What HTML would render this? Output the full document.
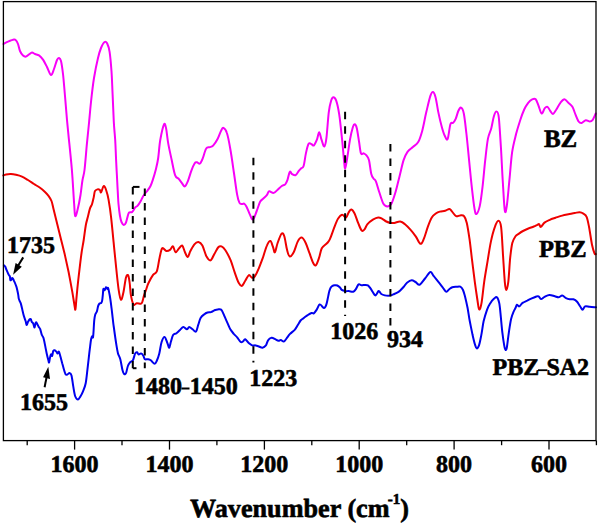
<!DOCTYPE html>
<html><head><meta charset="utf-8"><style>
html,body{margin:0;padding:0;background:#fff;}
svg{display:block;}
text{font-family:"Liberation Serif",serif;font-weight:bold;fill:#000;stroke:#000;stroke-width:0.6px;text-rendering:geometricPrecision;}
</style></head><body>
<svg width="600" height="523" viewBox="0 0 600 523">
<rect x="0" y="0" width="600" height="523" fill="#fff"/>
<g fill="none" stroke-width="2" stroke-linejoin="round" stroke-linecap="round">
<path d="M3.5,44.0 C4.2,43.6 6.2,42.3 8.0,41.6 C9.8,40.9 12.7,39.8 14.0,39.6 C15.3,39.4 15.3,39.7 16.0,40.4 C16.7,41.1 17.3,42.2 18.0,44.0 C18.7,45.8 19.2,49.1 20.0,51.0 C20.8,52.9 22.0,54.7 23.0,55.6 C24.0,56.5 25.0,56.8 26.0,56.6 C27.0,56.4 28.0,55.1 29.0,54.4 C30.0,53.7 31.0,52.5 32.0,52.4 C33.0,52.3 33.8,53.5 35.0,54.0 C36.2,54.5 37.7,54.5 39.0,55.4 C40.3,56.3 41.7,57.7 43.0,59.6 C44.3,61.5 45.7,64.4 47.0,67.0 C48.3,69.6 49.8,74.7 51.0,75.0 C52.2,75.3 53.0,71.5 54.0,69.0 C55.0,66.5 56.2,61.8 57.0,60.0 C57.8,58.2 58.3,57.8 59.0,58.0 C59.7,58.2 60.3,58.3 61.0,61.0 C61.7,63.7 62.3,68.2 63.0,74.0 C63.7,79.8 64.3,88.3 65.0,96.0 C65.7,103.7 66.4,113.6 67.0,120.0 C67.6,126.4 67.6,126.3 68.4,134.4 C69.2,142.5 70.8,157.3 71.8,168.8 C72.8,180.3 73.5,195.4 74.1,203.3 C74.7,211.2 74.6,214.9 75.2,216.0 C75.8,217.1 76.6,213.5 77.5,210.0 C78.4,206.5 79.7,200.0 80.5,195.0 C81.3,190.0 81.8,184.2 82.5,180.0 C83.2,175.8 83.8,175.7 84.5,170.0 C85.2,164.3 86.0,153.7 86.7,145.9 C87.5,138.1 88.3,130.3 89.0,123.0 C89.7,115.7 90.2,109.5 91.0,102.0 C91.8,94.5 92.8,85.3 94.0,78.0 C95.2,70.7 96.8,63.0 98.0,58.0 C99.2,53.0 99.9,50.7 101.0,48.0 C102.1,45.3 103.5,42.7 104.6,42.0 C105.6,41.3 106.5,42.2 107.3,43.8 C108.1,45.4 108.9,47.2 109.6,51.8 C110.3,56.4 111.0,64.2 111.5,71.3 C112.0,78.4 112.2,85.8 112.6,94.2 C113.0,102.6 113.4,114.2 113.8,121.8 C114.2,129.4 114.8,133.6 115.2,140.0 C115.6,146.4 115.8,154.1 116.1,160.0 C116.4,165.9 116.6,170.2 116.9,175.3 C117.2,180.4 117.4,185.8 117.7,190.6 C118.0,195.4 118.1,199.8 118.5,204.0 C118.9,208.2 119.4,212.5 119.9,215.5 C120.4,218.5 120.8,220.4 121.5,222.0 C122.2,223.6 123.0,224.9 123.8,225.0 C124.5,225.1 125.4,223.9 126.0,222.5 C126.6,221.1 127.1,218.3 127.6,216.6 C128.1,214.9 128.3,213.3 129.1,212.5 C129.9,211.7 131.2,212.8 132.2,212.0 C133.2,211.2 134.3,208.4 135.2,207.4 C136.1,206.4 136.6,206.9 137.5,205.9 C138.4,204.9 139.6,203.1 140.6,201.3 C141.6,199.5 142.5,197.0 143.7,195.2 C144.8,193.4 146.4,192.1 147.5,190.6 C148.6,189.1 149.6,187.8 150.5,186.0 C151.4,184.2 151.9,182.7 152.8,179.9 C153.7,177.1 155.0,172.8 155.9,169.2 C156.8,165.5 157.5,162.9 158.2,158.0 C158.9,153.1 159.3,145.4 160.3,139.8 C161.3,134.2 163.0,126.4 164.0,124.5 C165.0,122.6 165.4,125.1 166.1,128.4 C166.8,131.7 167.4,139.1 168.4,144.4 C169.4,149.8 170.7,155.3 171.8,160.5 C172.9,165.7 174.0,172.3 175.2,175.4 C176.3,178.5 177.5,177.5 178.7,178.8 C179.8,180.1 181.1,182.1 182.1,183.4 C183.1,184.7 183.9,186.8 184.9,186.4 C185.9,186.0 186.8,183.7 187.9,181.1 C189.0,178.5 190.2,173.8 191.3,170.8 C192.4,167.8 193.8,164.6 194.7,163.2 C195.6,161.8 196.1,162.2 197.0,162.3 C197.9,162.4 199.0,164.2 200.0,163.5 C201.0,162.8 201.8,160.7 202.8,158.2 C203.8,155.7 205.0,150.3 206.2,148.5 C207.3,146.7 208.5,147.7 209.7,147.2 C210.8,146.7 211.8,147.0 213.1,145.6 C214.4,144.2 216.4,141.2 217.7,138.7 C219.0,136.2 220.1,132.5 221.1,130.7 C222.1,128.9 222.4,127.5 223.4,127.9 C224.4,128.3 225.8,129.5 226.9,133.0 C228.1,136.5 229.2,142.5 230.3,149.0 C231.5,155.5 232.7,164.3 233.8,172.0 C235.0,179.7 236.2,189.8 237.2,194.9 C238.1,200.1 238.7,201.4 239.5,202.9 C240.3,204.4 241.0,204.0 241.8,204.1 C242.6,204.2 243.3,203.2 244.1,203.6 C244.9,204.0 245.4,204.6 246.4,206.4 C247.4,208.2 248.7,212.2 249.8,214.4 C250.9,216.6 251.8,220.1 253.0,219.5 C254.2,218.9 255.5,213.9 256.7,211.0 C257.9,208.1 259.0,203.9 260.1,201.8 C261.2,199.7 262.5,199.5 263.6,198.3 C264.8,197.2 266.1,196.1 267.0,194.9 C267.9,193.7 268.1,191.6 269.2,191.3 C270.3,191.0 272.3,193.3 273.8,192.9 C275.3,192.5 277.1,190.2 278.4,189.0 C279.7,187.8 280.7,186.8 281.8,186.0 C282.9,185.2 284.2,185.4 285.2,184.4 C286.1,183.4 286.7,181.9 287.5,179.8 C288.3,177.7 289.0,172.8 289.8,171.8 C290.6,170.9 291.1,173.5 292.1,174.1 C293.1,174.7 294.5,175.8 295.6,175.2 C296.8,174.6 298.1,171.8 299.0,170.6 C299.9,169.4 300.5,169.1 301.3,168.3 C302.1,167.5 302.8,168.5 303.6,166.0 C304.4,163.5 305.1,157.1 305.9,153.4 C306.7,149.7 307.7,145.3 308.6,143.8 C309.6,142.3 310.7,144.0 311.6,144.3 C312.5,144.6 313.0,146.2 313.9,145.4 C314.8,144.6 316.0,141.9 316.9,139.7 C317.8,137.5 318.4,132.3 319.2,132.3 C320.0,132.3 320.6,137.3 321.5,139.7 C322.4,142.1 323.5,146.9 324.3,146.5 C325.1,146.1 325.8,143.1 326.5,137.4 C327.2,131.7 328.0,118.2 328.8,112.1 C329.6,106.0 330.3,103.2 331.1,100.7 C331.9,98.2 332.5,97.2 333.4,97.2 C334.2,97.2 335.2,97.8 336.2,100.7 C337.2,103.6 338.2,107.9 339.2,114.4 C340.2,120.9 341.3,132.1 342.1,139.7 C342.9,147.3 343.5,155.4 344.0,160.2 C344.5,165.0 344.7,168.9 345.2,168.5 C345.7,168.1 346.4,162.8 347.2,158.0 C348.0,153.2 349.1,144.9 350.0,139.7 C350.9,134.5 352.1,129.6 352.9,127.0 C353.7,124.4 354.1,124.1 354.8,124.3 C355.5,124.5 356.1,125.2 356.8,128.2 C357.5,131.1 358.4,137.8 359.1,142.0 C359.8,146.2 360.2,151.5 361.0,153.4 C361.8,155.3 362.8,153.0 363.7,153.4 C364.6,153.8 365.8,154.5 366.7,155.7 C367.6,156.8 368.2,157.2 369.0,160.3 C369.8,163.4 370.5,171.0 371.3,174.1 C372.1,177.2 372.8,177.5 373.6,178.7 C374.4,179.9 374.9,179.0 375.9,181.3 C376.9,183.6 378.1,188.8 379.4,192.5 C380.6,196.2 382.1,201.5 383.4,203.8 C384.7,206.1 386.1,206.4 387.4,206.4 C388.7,206.4 390.1,206.1 391.4,203.8 C392.7,201.5 394.0,197.1 395.4,192.5 C396.8,187.9 398.1,181.8 399.5,176.4 C400.9,171.1 402.2,164.5 403.5,160.4 C404.8,156.3 405.9,154.0 407.5,151.8 C409.1,149.6 411.1,148.6 412.9,147.0 C414.7,145.4 416.6,144.8 418.2,142.1 C419.8,139.4 420.8,135.9 422.2,130.9 C423.6,125.9 424.9,117.9 426.3,112.1 C427.7,106.3 429.2,99.4 430.3,96.1 C431.4,92.8 432.1,91.9 433.0,92.1 C433.9,92.3 434.7,94.1 435.6,97.4 C436.5,100.7 437.3,107.2 438.3,112.1 C439.3,117.0 440.7,122.9 441.8,126.9 C442.9,130.9 444.0,134.3 445.0,136.3 C446.0,138.3 446.8,140.9 447.7,138.9 C448.6,136.9 449.5,126.9 450.4,124.2 C451.3,121.5 452.1,123.8 453.0,122.9 C453.9,122.0 454.8,120.8 455.7,118.8 C456.6,116.8 457.5,112.7 458.4,110.8 C459.3,108.9 460.2,107.1 461.1,107.6 C462.0,108.0 462.9,109.2 463.8,113.5 C464.7,117.8 465.5,125.7 466.4,133.5 C467.3,141.3 468.2,151.5 469.1,160.4 C470.0,169.3 470.9,179.2 471.8,187.2 C472.7,195.2 473.7,204.1 474.5,208.6 C475.3,213.1 475.5,214.4 476.4,214.0 C477.3,213.6 478.8,210.4 479.8,205.9 C480.8,201.4 481.6,194.8 482.5,187.2 C483.4,179.6 484.3,168.4 485.2,160.4 C486.1,152.4 486.9,144.3 487.9,138.9 C488.9,133.5 490.3,132.0 491.3,128.2 C492.3,124.4 493.0,119.0 493.9,116.2 C494.8,113.4 495.8,111.4 496.6,111.6 C497.4,111.8 498.1,111.6 498.8,117.5 C499.5,123.4 500.2,136.3 500.9,147.0 C501.6,157.7 502.1,171.2 502.8,181.8 C503.5,192.4 504.1,206.5 504.8,210.5 C505.5,214.5 506.0,211.1 506.8,205.9 C507.6,200.7 508.6,188.0 509.5,179.1 C510.4,170.2 511.0,159.9 512.1,152.3 C513.2,144.7 514.9,138.9 516.2,133.6 C517.6,128.2 518.9,124.2 520.2,120.2 C521.5,116.2 522.9,112.4 524.2,109.5 C525.5,106.6 526.9,104.5 528.2,102.8 C529.5,101.1 531.0,99.9 532.2,99.3 C533.5,98.7 534.7,98.3 535.7,99.3 C536.7,100.3 537.4,103.0 538.4,105.4 C539.4,107.8 540.5,113.0 541.6,113.5 C542.7,114.0 543.8,109.2 544.8,108.1 C545.8,107.0 546.6,106.3 547.5,106.8 C548.4,107.2 549.3,109.6 550.2,110.8 C551.1,112.0 551.9,114.2 552.9,114.0 C553.9,113.8 555.0,111.4 556.3,109.5 C557.5,107.6 559.0,104.5 560.4,102.8 C561.8,101.1 563.1,99.3 564.4,99.3 C565.7,99.3 567.1,101.5 568.4,102.8 C569.7,104.0 571.3,105.0 572.4,106.8 C573.5,108.6 574.1,111.0 575.1,113.5 C576.1,116.0 577.5,119.9 578.6,121.5 C579.7,123.1 580.6,123.1 581.8,122.9 C583.0,122.7 584.5,120.4 585.8,120.2 C587.1,120.0 588.7,121.5 589.8,121.5 C590.9,121.5 591.5,121.5 592.5,120.2 C593.5,118.9 595.2,114.6 595.7,113.5" stroke="#f800f8"/>
<path d="M3.4,175.5 C3.8,175.3 4.7,174.8 6.0,174.5 C7.3,174.2 9.3,173.9 11.0,174.0 C12.7,174.1 14.2,174.4 16.0,174.8 C17.8,175.2 20.0,175.7 22.0,176.6 C24.0,177.5 26.0,178.8 28.0,180.0 C30.0,181.2 32.0,182.7 34.0,184.0 C36.0,185.3 38.2,186.5 40.0,187.8 C41.8,189.1 43.6,190.7 45.0,192.0 C46.4,193.3 47.4,194.3 48.5,195.8 C49.6,197.3 50.6,198.7 51.5,201.0 C52.4,203.3 52.7,205.9 53.7,209.8 C54.7,213.8 56.2,219.7 57.4,224.7 C58.6,229.7 59.9,234.7 61.1,239.7 C62.3,244.7 63.5,249.2 64.8,254.6 C66.0,260.0 67.3,265.8 68.6,272.0 C69.8,278.2 71.3,286.2 72.3,291.9 C73.3,297.6 74.1,303.1 74.6,306.0 C75.1,308.9 75.1,310.5 75.4,309.5 C75.7,308.5 76.0,303.6 76.3,300.0 C76.6,296.4 76.9,293.3 77.4,288.2 C77.9,283.1 78.8,275.2 79.5,269.3 C80.2,263.4 80.9,257.4 81.6,252.5 C82.3,247.6 83.0,244.6 83.7,240.0 C84.4,235.4 85.1,229.1 85.8,225.2 C86.5,221.3 87.2,219.6 87.9,216.8 C88.6,214.0 89.3,210.5 90.0,208.4 C90.7,206.3 91.4,206.0 92.0,204.2 C92.6,202.4 93.2,199.6 93.7,197.4 C94.2,195.2 94.3,192.5 94.9,191.2 C95.5,189.9 96.6,189.6 97.4,189.4 C98.2,189.2 99.3,189.5 99.9,190.0 C100.5,190.5 100.5,193.0 101.1,192.4 C101.7,191.8 102.8,186.6 103.6,186.2 C104.4,185.8 105.3,187.7 106.1,190.0 C106.9,192.3 107.8,195.3 108.6,199.9 C109.4,204.5 110.3,210.2 111.1,217.3 C111.9,224.4 112.8,233.9 113.6,242.2 C114.4,250.5 115.3,259.1 116.1,267.0 C116.9,274.9 117.8,283.9 118.6,289.4 C119.4,294.9 120.2,299.4 121.0,299.8 C121.8,300.2 122.7,295.7 123.5,292.0 C124.3,288.3 125.2,280.2 126.0,277.5 C126.8,274.8 127.6,274.4 128.2,275.5 C128.8,276.6 129.4,280.7 129.8,284.0 C130.2,287.3 130.3,291.8 130.9,295.2 C131.5,298.6 132.6,303.3 133.6,304.6 C134.6,305.9 135.6,303.3 136.8,303.2 C138.0,303.1 139.9,304.0 140.8,303.8 C141.7,303.6 141.8,303.4 142.3,302.0 C142.8,300.6 143.4,297.5 144.0,295.5 C144.6,293.5 145.2,292.1 146.0,290.0 C146.8,287.9 147.3,285.5 148.5,283.0 C149.7,280.5 151.5,277.1 152.9,275.1 C154.3,273.1 155.8,274.0 156.9,271.1 C158.0,268.2 158.7,261.5 159.6,257.7 C160.5,253.9 161.1,249.4 162.2,248.3 C163.3,247.2 165.0,250.8 166.3,251.0 C167.7,251.2 169.2,250.4 170.3,249.6 C171.4,248.8 172.1,245.9 173.0,246.4 C173.9,246.9 174.6,252.0 175.6,252.3 C176.6,252.6 178.0,249.4 179.1,248.3 C180.2,247.2 181.3,244.9 182.3,245.6 C183.3,246.3 184.1,250.4 185.0,252.3 C185.9,254.2 186.8,257.3 187.7,257.1 C188.6,256.9 189.3,253.1 190.4,251.0 C191.5,248.9 193.1,245.8 194.4,244.3 C195.7,242.8 197.1,241.9 198.4,242.1 C199.7,242.3 201.1,243.2 202.4,245.6 C203.7,248.0 205.1,253.8 206.4,256.3 C207.8,258.8 209.2,260.8 210.5,260.4 C211.8,260.0 213.2,255.9 214.5,253.7 C215.8,251.5 217.3,248.2 218.5,247.0 C219.7,245.8 220.3,245.9 221.5,246.4 C222.7,246.9 223.9,247.9 225.4,250.2 C226.9,252.5 229.1,256.7 230.7,260.4 C232.2,264.1 233.3,268.6 234.7,272.4 C236.0,276.2 237.6,280.9 238.8,283.1 C240.0,285.3 240.9,286.2 242.0,285.8 C243.1,285.4 244.2,282.3 245.4,280.5 C246.6,278.7 247.8,275.6 248.9,275.1 C250.0,274.7 251.1,277.6 252.1,277.8 C253.1,278.0 253.7,278.0 254.8,276.4 C255.9,274.8 257.5,271.5 258.8,268.4 C260.1,265.3 261.5,261.5 262.9,257.7 C264.2,253.9 265.6,248.4 266.9,245.6 C268.1,242.8 269.4,240.9 270.4,241.1 C271.4,241.3 272.2,245.1 273.0,247.0 C273.8,248.9 274.1,253.0 274.9,252.3 C275.7,251.6 276.5,246.1 277.6,243.0 C278.7,239.9 280.5,234.7 281.6,233.6 C282.7,232.5 283.4,233.6 284.3,236.3 C285.2,239.0 286.1,246.3 287.0,249.6 C287.9,252.9 288.5,255.9 289.6,256.3 C290.7,256.8 292.4,254.8 293.7,252.3 C295.0,249.9 296.4,244.1 297.7,241.6 C299.0,239.1 300.4,237.4 301.7,237.6 C303.0,237.8 304.4,240.3 305.7,243.0 C307.0,245.7 308.4,250.4 309.7,253.7 C310.9,257.0 312.2,261.1 313.2,263.0 C314.2,264.9 314.9,266.1 315.9,265.2 C316.9,264.3 318.1,260.5 319.1,257.7 C320.1,254.9 320.5,250.8 321.8,248.3 C323.1,245.9 325.8,244.6 327.2,243.0 C328.6,241.4 328.9,241.4 330.0,238.9 C331.1,236.4 332.7,231.5 334.0,228.2 C335.3,224.8 336.6,221.0 338.0,218.8 C339.4,216.6 340.8,215.0 342.1,214.8 C343.5,214.6 345.0,217.9 346.1,217.5 C347.2,217.1 347.9,213.4 348.8,212.1 C349.7,210.8 350.4,209.3 351.4,209.5 C352.4,209.7 353.5,211.3 354.6,213.5 C355.7,215.7 356.9,220.1 358.1,222.9 C359.3,225.7 360.6,229.3 361.6,230.4 C362.6,231.5 363.3,230.6 364.3,229.6 C365.3,228.6 366.1,225.9 367.5,224.2 C368.9,222.5 371.1,220.7 372.9,219.6 C374.7,218.5 376.6,217.6 378.2,217.5 C379.8,217.4 380.8,218.1 382.2,218.8 C383.6,219.5 384.9,220.8 386.3,221.5 C387.7,222.2 389.0,222.7 390.3,222.9 C391.6,223.1 392.7,223.1 394.3,222.9 C395.9,222.7 398.4,221.3 400.2,221.5 C402.0,221.7 403.3,222.8 405.0,224.2 C406.7,225.5 408.6,227.6 410.4,229.6 C412.2,231.6 414.0,233.9 415.7,236.3 C417.4,238.7 419.1,243.4 420.5,243.8 C421.9,244.2 422.6,241.7 423.8,238.9 C425.0,236.1 426.5,230.5 427.8,226.9 C429.1,223.3 430.5,219.7 431.8,217.5 C433.1,215.3 434.5,214.5 435.8,213.5 C437.1,212.5 438.2,212.0 439.8,211.6 C441.4,211.2 443.6,211.2 445.2,210.8 C446.8,210.4 448.2,208.8 449.4,208.9 C450.5,209.0 451.0,210.4 452.1,211.6 C453.2,212.8 454.8,215.6 456.1,216.2 C457.4,216.8 458.8,215.4 460.1,215.4 C461.4,215.4 463.0,214.9 464.1,216.2 C465.2,217.4 465.9,219.1 466.8,222.9 C467.7,226.7 468.6,232.7 469.5,238.9 C470.4,245.2 471.2,253.2 472.1,260.4 C473.0,267.5 473.9,275.1 474.8,281.8 C475.7,288.5 476.8,295.9 477.5,300.5 C478.2,305.1 478.5,309.1 479.2,309.5 C479.9,309.9 480.7,307.8 481.5,303.2 C482.3,298.6 483.2,288.9 484.2,281.8 C485.2,274.7 486.6,267.1 487.7,260.4 C488.8,253.7 489.7,247.2 490.9,241.6 C492.1,236.0 493.6,230.4 494.9,226.9 C496.1,223.4 497.4,220.7 498.4,220.7 C499.4,220.7 500.3,221.2 501.1,226.9 C501.9,232.6 502.4,245.8 503.0,255.0 C503.6,264.1 504.3,276.0 504.8,281.8 C505.3,287.6 505.6,290.0 506.2,290.0 C506.8,290.0 507.6,287.2 508.3,281.8 C509.0,276.4 509.5,264.2 510.2,257.7 C510.9,251.2 511.4,246.6 512.3,243.0 C513.2,239.4 514.4,237.9 515.5,236.3 C516.6,234.7 517.8,234.5 519.0,233.6 C520.2,232.7 521.4,231.8 523.0,231.0 C524.6,230.2 526.6,229.2 528.4,228.5 C530.2,227.8 532.3,227.1 533.8,226.5 C535.3,225.9 536.5,225.2 537.4,224.8 C538.3,224.4 538.5,223.8 539.1,224.2 C539.7,224.5 539.9,227.2 540.8,226.9 C541.7,226.6 543.0,223.8 544.5,222.6 C546.0,221.4 548.0,220.6 549.8,219.8 C551.6,219.0 553.4,218.5 555.5,217.8 C557.6,217.1 560.1,216.2 562.2,215.6 C564.4,215.0 566.3,214.7 568.4,214.3 C570.5,213.9 572.8,213.3 574.7,213.0 C576.6,212.7 578.2,212.1 579.6,212.2 C581.0,212.3 582.2,212.8 583.4,213.6 C584.6,214.4 585.6,214.5 586.6,216.8 C587.6,219.1 588.2,222.7 589.1,227.3 C590.0,232.0 591.1,240.3 592.0,244.7 C592.9,249.0 593.9,251.8 594.5,253.4 C595.1,255.0 595.6,254.0 595.8,254.1" stroke="#ee0000"/>
<path d="M3.9,265.3 C4.1,265.5 4.8,265.9 5.2,266.6 C5.6,267.3 6.0,268.6 6.4,269.6 C6.8,270.6 7.3,271.7 7.7,272.6 C8.1,273.5 8.6,274.6 9.0,275.2 C9.4,275.8 9.7,275.7 9.9,276.5 C10.1,277.3 10.1,279.4 10.3,280.0 C10.5,280.6 10.9,280.2 11.2,279.9 C11.5,279.6 11.7,278.4 12.0,278.2 C12.3,278.0 12.6,278.2 12.9,278.6 C13.2,279.0 13.5,279.7 13.8,280.4 C14.2,281.1 14.6,282.0 15.0,283.0 C15.4,284.0 15.9,285.3 16.3,286.4 C16.7,287.5 16.9,288.5 17.2,289.8 C17.5,291.1 17.9,292.7 18.1,294.1 C18.4,295.5 18.5,297.3 18.7,298.4 C18.9,299.5 19.2,299.8 19.5,300.6 C19.8,301.4 20.2,301.6 20.7,303.1 C21.2,304.6 21.8,307.4 22.3,309.6 C22.8,311.8 23.3,314.2 23.9,316.1 C24.4,318.0 25.1,319.5 25.6,321.0 C26.1,322.5 26.3,325.0 26.7,325.1 C27.1,325.2 27.5,322.8 28.0,321.8 C28.5,320.9 29.1,319.8 29.6,319.4 C30.1,318.9 30.5,318.7 30.8,319.1 C31.1,319.5 31.3,321.1 31.7,321.8 C32.1,322.5 32.7,322.6 33.2,323.5 C33.7,324.4 34.1,327.6 34.5,327.5 C34.9,327.4 35.4,323.3 35.8,322.6 C36.2,321.9 36.5,322.8 37.0,323.5 C37.5,324.2 38.1,325.8 38.6,326.7 C39.1,327.6 39.7,327.8 40.2,329.1 C40.7,330.5 41.2,333.3 41.8,334.8 C42.3,336.3 43.0,336.3 43.5,338.1 C44.0,339.9 44.6,342.8 45.1,345.4 C45.6,348.0 46.2,351.1 46.7,353.5 C47.2,355.9 47.9,358.5 48.3,360.0 C48.7,361.5 48.8,362.9 49.1,362.5 C49.4,362.1 49.7,359.0 50.0,357.6 C50.3,356.2 50.8,354.6 51.1,354.3 C51.5,354.0 51.8,356.5 52.1,356.0 C52.5,355.5 52.8,352.1 53.2,351.1 C53.7,350.2 54.2,350.2 54.8,350.3 C55.3,350.4 56.0,351.4 56.5,351.9 C57.0,352.4 57.2,353.6 57.6,353.5 C58.0,353.4 58.4,351.1 58.9,351.6 C59.4,352.2 60.0,354.9 60.5,356.8 C61.0,358.8 61.7,361.3 62.2,363.3 C62.8,365.3 63.3,367.2 63.8,369.0 C64.3,370.8 64.9,372.9 65.4,373.9 C65.9,374.8 66.3,374.8 67.0,374.7 C67.7,374.6 68.8,372.9 69.5,373.0 C70.2,373.1 70.9,373.2 71.5,375.5 C72.1,377.8 72.7,383.2 73.3,386.7 C73.9,390.2 74.5,394.4 75.3,396.5 C76.1,398.6 77.2,399.5 78.0,399.5 C78.8,399.5 79.6,398.0 80.4,396.6 C81.2,395.2 82.1,393.5 83.0,391.3 C83.9,389.1 85.0,386.8 85.7,383.2 C86.4,379.6 86.9,374.1 87.4,369.8 C87.9,365.6 88.4,361.4 88.8,357.7 C89.2,354.0 89.6,350.5 90.0,347.4 C90.4,344.2 90.8,340.7 91.2,338.8 C91.6,336.9 92.0,336.4 92.3,336.2 C92.6,336.0 92.8,338.2 93.0,337.5 C93.2,336.8 93.3,334.9 93.5,332.0 C93.7,329.1 94.0,322.8 94.3,319.9 C94.6,317.0 94.8,316.1 95.2,314.7 C95.6,313.3 96.4,312.7 96.9,311.3 C97.4,309.9 97.7,307.4 98.1,306.1 C98.5,304.8 99.0,304.0 99.5,303.5 C100.0,303.0 100.8,303.4 101.2,303.0 C101.6,302.6 101.8,302.4 102.1,300.9 C102.4,299.4 102.7,296.0 102.9,294.0 C103.1,292.0 103.1,289.5 103.4,288.9 C103.7,288.3 104.3,290.6 104.7,290.3 C105.1,290.0 105.6,287.4 106.0,287.2 C106.4,287.0 106.9,288.8 107.2,288.9 C107.5,289.0 107.7,286.9 108.1,288.0 C108.5,289.1 109.2,292.5 109.8,295.8 C110.4,299.1 110.9,303.2 111.5,307.8 C112.1,312.4 112.9,320.1 113.3,323.3 C113.7,326.5 113.3,323.3 113.8,327.0 C114.3,330.7 115.8,341.3 116.5,345.7 C117.2,350.1 117.4,351.1 118.0,353.4 C118.6,355.6 119.5,356.3 120.3,359.2 C121.1,362.1 121.9,368.1 122.6,370.6 C123.2,373.1 123.6,373.7 124.2,374.1 C124.8,374.5 125.5,374.2 126.1,372.9 C126.7,371.5 127.2,367.8 127.9,366.0 C128.6,364.2 129.4,363.1 130.2,362.1 C131.0,361.2 132.1,361.8 132.9,360.3 C133.7,358.9 134.5,354.7 135.2,353.4 C135.9,352.1 136.5,352.1 137.1,352.3 C137.7,352.5 138.0,354.4 138.7,354.6 C139.3,354.8 140.2,353.2 141.0,353.4 C141.8,353.6 142.7,354.7 143.3,355.7 C144.0,356.7 144.1,358.6 144.9,359.2 C145.7,359.8 146.9,359.0 147.9,359.2 C148.9,359.4 149.7,359.5 150.8,360.3 C151.9,361.1 153.7,363.8 154.7,363.8 C155.7,363.8 156.2,362.0 157.0,360.3 C157.8,358.6 158.5,356.4 159.3,353.4 C160.1,350.3 160.7,344.8 161.6,342.0 C162.5,339.2 163.6,336.7 164.6,336.9 C165.6,337.1 166.6,341.3 167.4,343.1 C168.2,344.9 168.6,347.9 169.2,347.7 C169.8,347.5 170.2,344.1 170.8,342.0 C171.5,339.9 172.2,336.6 173.1,335.1 C174.0,333.6 175.3,334.1 176.5,333.2 C177.7,332.3 178.8,331.0 180.0,330.0 C181.2,329.0 182.2,327.1 183.4,327.0 C184.6,326.9 185.9,329.3 186.9,329.3 C187.9,329.3 188.2,327.0 189.2,327.0 C190.1,327.0 191.5,328.5 192.6,329.3 C193.7,330.1 195.1,332.4 196.0,331.6 C196.9,330.8 197.5,327.0 198.3,324.7 C199.1,322.4 199.6,319.6 200.6,317.9 C201.6,316.2 202.9,315.3 204.1,314.4 C205.2,313.5 206.3,312.9 207.5,312.5 C208.7,312.1 209.8,312.5 211.0,312.1 C212.2,311.7 213.3,310.8 214.4,310.3 C215.5,309.9 216.7,309.5 217.8,309.4 C219.0,309.3 220.2,308.6 221.3,309.8 C222.5,311.0 223.5,314.2 224.7,316.7 C225.8,319.2 227.3,322.6 228.2,324.7 C229.1,326.8 229.4,327.8 230.3,329.3 C231.2,330.8 232.7,332.5 233.8,333.9 C235.0,335.2 236.0,336.0 237.2,337.4 C238.3,338.8 239.8,341.3 240.7,342.0 C241.6,342.7 242.2,342.0 242.9,341.5 C243.7,341.0 244.2,338.9 245.2,339.2 C246.2,339.5 247.5,342.1 248.7,343.1 C249.8,344.1 250.9,345.0 252.1,345.4 C253.2,345.8 254.4,345.2 255.6,345.4 C256.8,345.6 257.9,346.1 259.0,346.5 C260.1,346.9 261.4,347.9 262.5,347.7 C263.6,347.5 264.9,346.7 265.9,345.4 C266.8,344.1 267.2,341.4 268.2,340.1 C269.1,338.8 270.5,338.0 271.6,337.8 C272.8,337.6 274.0,338.7 275.1,339.2 C276.2,339.7 277.6,340.6 278.5,340.8 C279.4,341.0 279.9,340.0 280.8,340.1 C281.7,340.2 282.9,341.8 283.8,341.5 C284.8,341.2 285.5,339.8 286.5,338.5 C287.5,337.2 288.6,335.4 290.0,333.9 C291.4,332.4 293.6,331.1 294.9,329.6 C296.2,328.1 296.9,326.5 297.8,325.0 C298.8,323.5 299.7,321.6 300.6,320.5 C301.6,319.4 302.4,319.1 303.5,318.2 C304.6,317.3 306.2,316.2 307.5,315.3 C308.8,314.4 310.4,313.3 311.5,313.0 C312.6,312.7 312.9,313.9 313.8,313.3 C314.7,312.7 315.7,311.1 316.7,309.6 C317.7,308.1 318.6,304.8 319.6,304.4 C320.7,304.0 322.1,306.7 323.0,307.3 C323.9,307.9 324.1,308.3 324.7,307.8 C325.3,307.3 325.8,306.3 326.4,304.4 C327.0,302.5 327.7,298.6 328.2,296.4 C328.7,294.2 328.8,292.7 329.3,291.2 C329.8,289.7 330.3,288.1 331.0,287.2 C331.7,286.2 332.6,285.8 333.3,285.5 C334.0,285.2 334.3,285.3 335.0,285.3 C335.7,285.3 336.5,285.1 337.3,285.5 C338.1,285.9 339.3,286.8 340.0,287.5 C340.7,288.2 340.8,289.3 341.7,289.9 C342.6,290.5 344.0,290.9 345.2,291.1 C346.4,291.3 347.3,291.0 348.7,291.1 C350.1,291.2 352.1,292.0 353.3,291.7 C354.5,291.4 354.8,290.5 355.7,289.3 C356.6,288.1 357.6,285.1 358.6,284.4 C359.6,283.7 360.4,285.2 361.5,285.3 C362.6,285.4 363.9,284.9 365.0,284.9 C366.1,284.9 367.0,284.8 367.9,285.3 C368.8,285.9 369.4,286.9 370.3,288.2 C371.2,289.4 372.4,291.6 373.2,292.8 C374.0,294.0 374.7,295.2 375.3,295.4 C375.9,295.6 376.2,294.7 376.7,294.0 C377.2,293.3 377.9,291.5 378.4,291.1 C378.9,290.7 379.1,291.2 379.6,291.7 C380.1,292.2 380.4,293.4 381.3,294.0 C382.2,294.6 383.6,295.1 384.8,295.4 C386.0,295.7 387.3,295.8 388.3,295.8 C389.3,295.8 389.7,295.7 390.7,295.4 C391.7,295.1 393.0,294.5 394.2,294.0 C395.4,293.5 396.7,292.9 397.7,292.3 C398.7,291.8 398.9,291.7 400.0,290.7 C401.1,289.7 402.8,287.8 404.0,286.5 C405.2,285.2 405.7,283.7 407.0,282.7 C408.3,281.7 410.3,280.4 411.7,280.3 C413.1,280.2 414.2,281.3 415.5,282.0 C416.8,282.7 418.1,285.3 419.7,284.7 C421.3,284.1 423.2,280.6 425.0,278.5 C426.8,276.4 428.9,272.4 430.3,272.0 C431.8,271.6 432.2,274.2 433.7,276.0 C435.1,277.8 437.4,280.7 439.0,282.7 C440.6,284.7 441.8,286.3 443.0,287.8 C444.2,289.3 445.2,291.5 446.3,291.7 C447.4,291.9 448.5,289.7 449.5,289.0 C450.5,288.3 451.1,287.7 452.3,287.3 C453.5,286.9 455.2,286.9 456.5,286.8 C457.8,286.7 459.2,286.2 460.3,286.7 C461.4,287.2 462.2,288.2 463.0,290.0 C463.8,291.8 464.4,294.3 465.2,297.2 C465.9,300.1 466.7,303.5 467.5,307.5 C468.3,311.5 468.9,316.7 469.8,321.3 C470.7,325.9 471.8,331.3 472.6,335.1 C473.5,338.9 474.2,342.0 474.9,344.2 C475.6,346.4 476.0,348.2 476.7,348.4 C477.4,348.6 478.2,347.6 479.0,345.4 C479.8,343.2 480.5,339.1 481.3,335.1 C482.1,331.1 482.7,325.5 483.6,321.3 C484.6,317.1 485.9,312.9 487.0,309.8 C488.1,306.7 489.4,304.7 490.5,302.9 C491.6,301.1 492.8,299.8 493.9,298.8 C495.0,297.9 496.0,296.5 496.9,297.2 C497.8,297.9 498.5,299.6 499.2,302.9 C499.9,306.1 500.3,311.7 500.8,316.7 C501.3,321.7 501.8,328.0 502.4,332.8 C503.0,337.6 503.7,342.5 504.2,345.4 C504.7,348.3 505.1,349.8 505.6,350.0 C506.1,350.2 506.5,349.4 507.0,346.5 C507.5,343.6 508.1,337.4 508.8,332.8 C509.5,328.2 510.3,322.4 511.1,319.0 C511.9,315.6 512.6,314.0 513.4,312.1 C514.2,310.2 515.1,308.7 515.7,307.5 C516.3,306.3 516.3,305.0 516.9,304.8 C517.5,304.6 518.2,306.7 519.2,306.4 C520.2,306.1 521.3,303.8 522.6,302.9 C523.9,301.9 525.7,301.4 527.2,300.7 C528.7,299.9 530.3,299.1 531.8,298.4 C533.3,297.7 535.3,296.9 536.4,296.5 C537.5,296.1 537.8,295.9 538.6,296.3 C539.4,296.7 540.0,298.9 541.0,299.0 C542.0,299.1 543.2,297.5 544.6,296.8 C546.0,296.1 547.7,295.0 549.4,294.9 C551.1,294.8 553.3,295.9 554.8,296.3 C556.3,296.7 557.3,297.4 558.5,297.3 C559.7,297.2 561.0,295.5 562.2,295.6 C563.5,295.7 564.8,297.5 566.0,298.1 C567.2,298.7 568.5,299.1 569.7,299.3 C570.9,299.5 572.2,298.9 573.4,299.3 C574.6,299.7 576.0,300.6 577.1,301.8 C578.2,303.0 579.2,305.0 580.1,306.3 C581.0,307.6 581.8,309.8 582.6,309.8 C583.4,309.8 583.9,306.8 585.1,306.3 C586.3,305.8 588.0,306.6 589.6,306.8 C591.2,307.0 593.4,307.2 594.5,307.3 C595.6,307.4 595.8,307.3 596.0,307.3" stroke="#0000ee"/>
</g>
<g stroke="#000" stroke-width="2" fill="none" stroke-dasharray="7.5 7">
<line x1="253.4" y1="157.7" x2="253.4" y2="362.6"/>
<line x1="345.1" y1="111.8" x2="345.1" y2="316"/>
<line x1="390.4" y1="144.1" x2="390.4" y2="325.5"/>
<line x1="132.8" y1="186.9" x2="132.8" y2="368.2" stroke-dashoffset="0"/>
<line x1="144.8" y1="188.6" x2="144.8" y2="368.2"/>
<line x1="132.8" y1="186.9" x2="139.5" y2="186.9" stroke-dasharray="none"/>
<line x1="132.8" y1="368.2" x2="136.5" y2="368.2" stroke-dasharray="none"/>
</g>
<g stroke="#000" stroke-width="1.3" fill="none">
<rect x="3.4" y="1.6" width="592.6" height="439"/>
<line x1="27.2" y1="440.6" x2="27.2" y2="445.2"/><line x1="74.6" y1="440.6" x2="74.6" y2="449.6"/><line x1="122.0" y1="440.6" x2="122.0" y2="445.2"/><line x1="169.5" y1="440.6" x2="169.5" y2="449.6"/><line x1="216.9" y1="440.6" x2="216.9" y2="445.2"/><line x1="264.4" y1="440.6" x2="264.4" y2="449.6"/><line x1="311.8" y1="440.6" x2="311.8" y2="445.2"/><line x1="359.2" y1="440.6" x2="359.2" y2="449.6"/><line x1="406.7" y1="440.6" x2="406.7" y2="445.2"/><line x1="454.1" y1="440.6" x2="454.1" y2="449.6"/><line x1="501.6" y1="440.6" x2="501.6" y2="445.2"/><line x1="549.0" y1="440.6" x2="549.0" y2="449.6"/><line x1="596.4" y1="440.6" x2="596.4" y2="445.2"/>
</g>
<g font-size="24">
<text transform="translate(74.60,472.30) scale(1,1.000)" font-size="24" text-anchor="middle">1600</text><text transform="translate(169.48,472.30) scale(1,1.000)" font-size="24" text-anchor="middle">1400</text><text transform="translate(264.36,472.30) scale(1,1.000)" font-size="24" text-anchor="middle">1200</text><text transform="translate(359.24,472.30) scale(1,1.000)" font-size="24" text-anchor="middle">1000</text><text transform="translate(454.12,472.30) scale(1,1.000)" font-size="24" text-anchor="middle">800</text><text transform="translate(549.00,472.30) scale(1,1.000)" font-size="24" text-anchor="middle">600</text>
<text transform="translate(7.00,252.80) scale(1,1.000)" font-size="24">1735</text>
<text transform="translate(19.90,410.20) scale(1,1.000)" font-size="24">1655</text>
<text transform="translate(133.90,393.80) scale(1,1.000)" font-size="24">1480</text>
<text transform="translate(189.70,393.80) scale(1,1.000)" font-size="24">1450</text>
<rect x="181.4" y="387.5" width="8.1" height="2.0"/>
<text transform="translate(249.30,385.70) scale(1,1.000)" font-size="24">1223</text>
<text transform="translate(330.20,339.40) scale(1,1.000)" font-size="24">1026</text>
<text transform="translate(387.00,347.20) scale(1,1.000)" font-size="24">934</text>
<text transform="translate(543.90,146.80) scale(1,1.000)" font-size="25">BZ</text>
<text transform="translate(538.90,257.00) scale(1,1.000)" font-size="24.5">PBZ</text>
<text transform="translate(492.50,375.20) scale(1,1.000)" font-size="24">PBZ</text>
<text transform="translate(546.40,375.20) scale(1,1.000)" font-size="24">SA2</text>
<rect x="538" y="369.3" width="9.4" height="1.8"/>
</g>
<text transform="translate(190.00,517.00) scale(1,1.000)" font-size="26.2">Wavenumber (cm</text>
<text transform="translate(387.80,504.40) scale(1,1.000)" font-size="15">-1</text>
<text transform="translate(400.30,517.00) scale(1,1.000)" font-size="26.2">)</text>
<g stroke="#000" stroke-width="2" fill="#000">
<line x1="23.2" y1="257.4" x2="18.2" y2="265.5"/>
<polygon points="13.1,274.8 15.6,263.0 21.8,266.8" stroke="none"/>
<line x1="44.6" y1="387.3" x2="46.5" y2="377.5"/>
<polygon points="48.3,366.8 43.1,377.3 50.0,379.0" stroke="none"/>
</g>
</svg>
</body></html>
